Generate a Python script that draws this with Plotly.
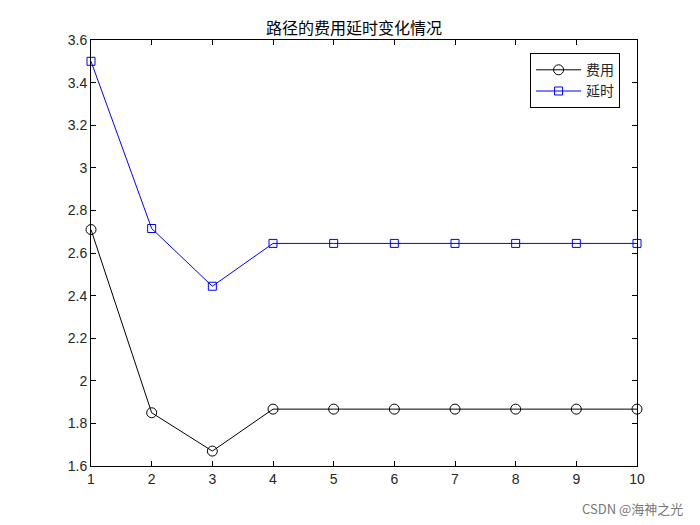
import plotly.graph_objects as go

# iteration index
steps = [1, 2, 3, 4, 5, 6, 7, 8, 9, 10]

# path cost and delay per iteration
cost = [2.71, 1.85, 1.67, 1.867, 1.867, 1.867, 1.867, 1.867, 1.867, 1.867]
delay = [3.50, 2.715, 2.444, 2.645, 2.645, 2.645, 2.645, 2.645, 2.645, 2.645]

y_ticks = [1.6, 1.8, 2.0, 2.2, 2.4, 2.6, 2.8, 3.0, 3.2, 3.4, 3.6]

fig = go.Figure()

fig.add_trace(go.Scatter(
    x=steps, y=cost, mode='lines+markers', name='费用',
    line=dict(color='black', width=1),
    marker=dict(symbol='circle-open', size=10, color='black', line=dict(width=1)),
    cliponaxis=False,
))
fig.add_trace(go.Scatter(
    x=steps, y=delay, mode='lines+markers', name='延时',
    line=dict(color='#0000ff', width=1),
    marker=dict(symbol='square-open', size=8, color='#0000ff', line=dict(width=1)),
    cliponaxis=False,
))

axis_style = dict(
    showline=True, linecolor='black', linewidth=1, mirror='ticks',
    ticks='inside', ticklen=5, tickcolor='black',
    showgrid=False, zeroline=False,
    tickfont=dict(family='Liberation Sans, Arial', size=14, color='#262626'),
)

fig.update_xaxes(range=[1, 10], tickvals=steps, **axis_style)
fig.update_yaxes(range=[1.6, 3.6], tickvals=y_ticks, **axis_style)

# the page adds an 8px body margin, so the figure is a bit smaller
fig.update_layout(
    width=692, height=517,
    margin=dict(l=83, r=63, t=32, b=59),
    paper_bgcolor='white', plot_bgcolor='white',
    title=dict(text='路径的费用延时变化情况', x=0.5, xanchor='center',
               yref='paper', y=1, yanchor='bottom', pad=dict(b=6),
               font=dict(family='Noto Sans CJK SC', size=16, color='black')),
    showlegend=True,
    legend=dict(x=0.969, y=0.969, xanchor='right', yanchor='top',
                bordercolor='black', borderwidth=1, bgcolor='white',
                font=dict(family='Noto Sans CJK SC', size=14, color='#262626'),
                tracegroupgap=0, itemwidth=45),
    annotations=[dict(text='CSDN @海神之光', x=1, y=0, xref='paper', yref='paper',
                      xanchor='right', yanchor='middle', xshift=48, yshift=-42,
                      showarrow=False,
                      font=dict(family='Noto Sans CJK SC', size=13, color='#777777'))],
)

fig.write_html("out.html")
